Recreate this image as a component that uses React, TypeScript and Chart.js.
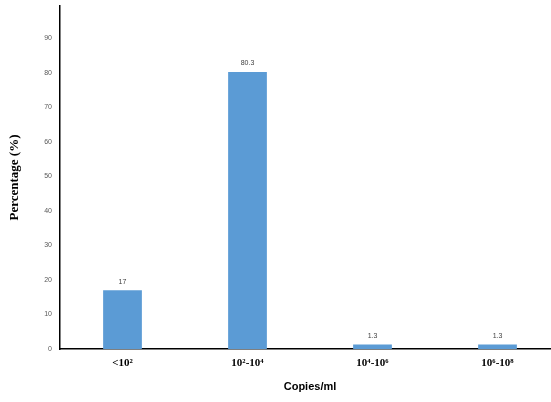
import { useEffect, useRef } from "react";
import { Chart, registerables } from "chart.js";

Chart.register(...registerables);

const categories = ["<10²", "10²-10⁴", "10⁴-10⁶", "10⁶-10⁸"];
const percentages = [17, 80.3, 1.3, 1.3];
const valueLabels = ["17", "80.3", "1.3", "1.3"];

const barColor = "#5B9BD5";

// small labels above each bar
const barValueLabels = {
  id: "barValueLabels",
  afterDatasetsDraw(chart: any) {
    const { ctx } = chart;
    const meta = chart.getDatasetMeta(0);
    ctx.save();
    ctx.font = "7px 'Liberation Sans', Arial, sans-serif";
    ctx.fillStyle = "#404040";
    ctx.textAlign = "center";
    ctx.textBaseline = "bottom";
    meta.data.forEach((bar: any, i: number) => {
      ctx.fillText(valueLabels[i], bar.x, bar.y - 5);
    });
    ctx.restore();
  },
};

export default function App() {
  const canvasRef = useRef<HTMLCanvasElement | null>(null);

  useEffect(() => {
    if (!canvasRef.current) return;
    const chart = new Chart(canvasRef.current, {
      type: "bar",
      data: {
        labels: categories,
        datasets: [
          {
            label: "Percentage",
            data: percentages,
            backgroundColor: barColor,
            barPercentage: 0.31,
            categoryPercentage: 1,
          },
        ],
      },
      options: {
        animation: false,
        responsive: true,
        maintainAspectRatio: false,
        layout: { padding: { left: 0, right: 10, top: 6, bottom: 0 } },
        plugins: {
          legend: { display: false },
          tooltip: { enabled: false },
        },
        scales: {
          x: {
            grid: { display: false, drawTicks: false },
            border: { color: "#000", width: 1.5 },
            ticks: {
              color: "#000",
              padding: 8,
              font: { family: "'Liberation Serif', 'Times New Roman', serif", size: 11, weight: "bold" },
            },
            title: {
              display: true,
              text: "Copies/ml",
              color: "#000",
              padding: { top: 0, bottom: 8.5 },
              font: { family: "'Liberation Sans', Arial, sans-serif", size: 11, weight: "bold" },
            },
            afterFit: (scale: any) => {
              scale.height = 53;
            },
          },
          y: {
            min: 0,
            max: 99.4,
            grid: { display: false, drawTicks: false },
            border: { color: "#000", width: 1.5 },
            ticks: {
              stepSize: 10,
              includeBounds: false,
              color: "#595959",
              padding: 8,
              font: { family: "'Liberation Sans', Arial, sans-serif", size: 7 },
            },
            title: {
              display: true,
              text: "Percentage (%)",
              color: "#000",
              padding: { top: 7, bottom: 0 },
              font: { family: "'Liberation Serif', 'Times New Roman', serif", size: 13, weight: "bold" },
            },
            afterFit: (scale: any) => {
              scale.width = 60;
              scale.paddingTop = 0;
              scale.paddingBottom = 0;
            },
          },
        },
      },
      plugins: [barValueLabels],
    });
    return () => {
      chart.destroy();
    };
  }, []);

  return (
    <div style={{ position: "fixed", left: 0, top: 0, width: 551, height: 402, overflow: "hidden", background: "#fff" }}>
      <div style={{ position: "relative", width: 570, height: 402 }}>
        <canvas ref={canvasRef} />
      </div>
    </div>
  );
}
